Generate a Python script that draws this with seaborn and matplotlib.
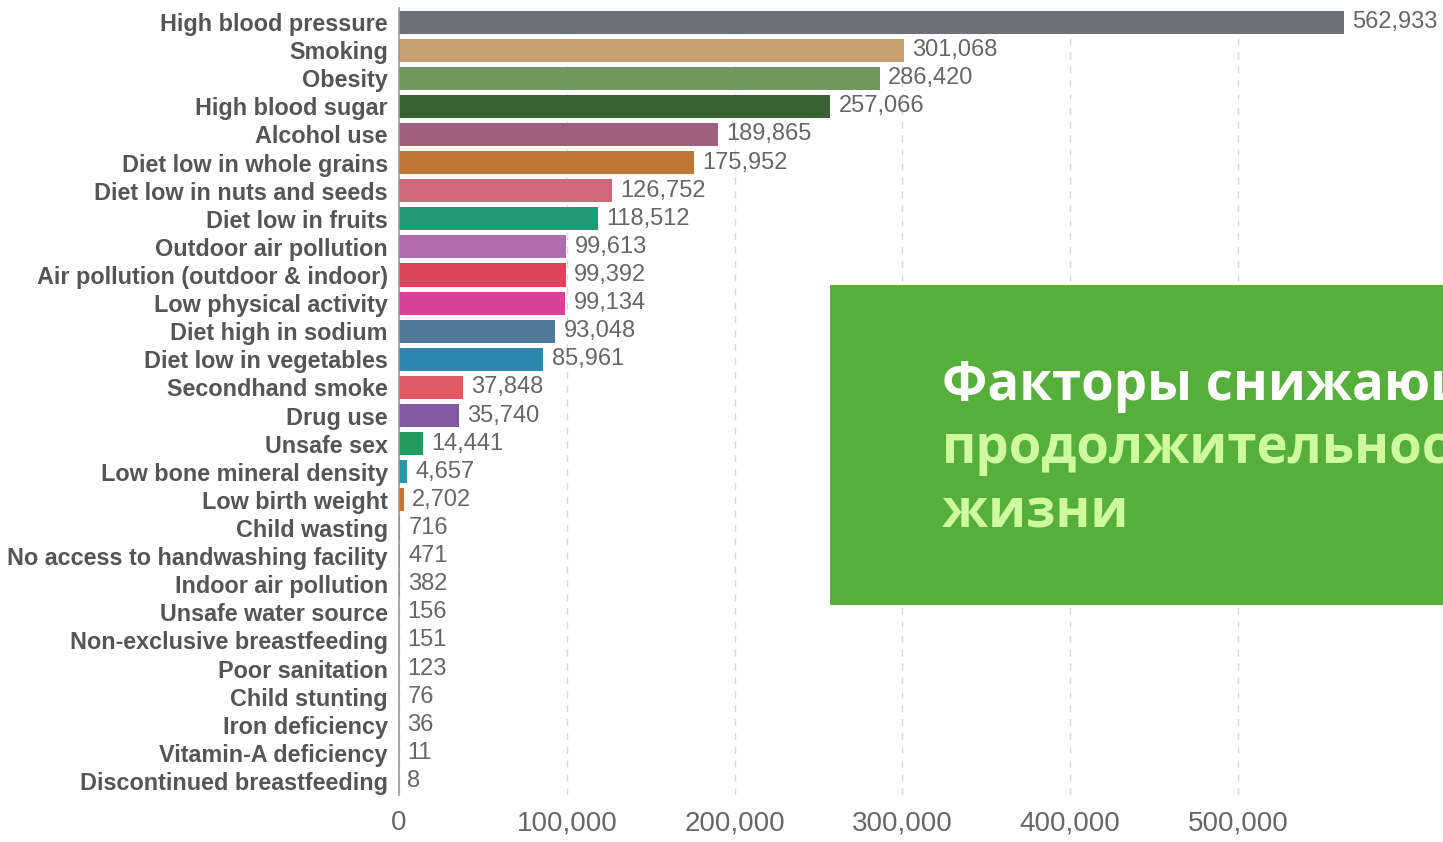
import matplotlib
matplotlib.use('Agg')
import matplotlib.pyplot as plt
import seaborn as sns
import pandas as pd
from matplotlib.patches import Rectangle
from matplotlib.ticker import FuncFormatter

categories = [
    "High blood pressure", "Smoking", "Obesity", "High blood sugar", "Alcohol use",
    "Diet low in whole grains", "Diet low in nuts and seeds", "Diet low in fruits",
    "Outdoor air pollution", "Air pollution (outdoor & indoor)", "Low physical activity",
    "Diet high in sodium", "Diet low in vegetables", "Secondhand smoke", "Drug use",
    "Unsafe sex", "Low bone mineral density", "Low birth weight", "Child wasting",
    "No access to handwashing facility", "Indoor air pollution", "Unsafe water source",
    "Non-exclusive breastfeeding", "Poor sanitation", "Child stunting", "Iron deficiency",
    "Vitamin-A deficiency", "Discontinued breastfeeding",
]
values = [562933, 301068, 286420, 257066, 189865, 175952, 126752, 118512, 99613, 99392,
          99134, 93048, 85961, 37848, 35740, 14441, 4657, 2702, 716, 471, 382, 156, 151,
          123, 76, 36, 11, 8]
colors = ["#6E717A", "#C79F70", "#72975F", "#386331", "#9E5F7F", "#BF7634", "#CF687A",
          "#239A78", "#AF6BAB", "#DC4459", "#D6449A", "#517A99", "#2E87AE", "#DD5A66",
          "#835AA2", "#239B5D", "#2A97A6", "#CC7232", "#6C8EB0", "#C94B8A", "#8A7FA8",
          "#6E9AB8", "#C98A5A", "#7A9F6A", "#A06A8A", "#D0787A", "#5A8FA0", "#9A8A6A"]
x_ticks = [0, 100000, 200000, 300000, 400000, 500000]
title_lines = ["Факторы снижающие", "продолжительность", "жизни"]
title_colors = ["#FFFFFF", "#CFFB9F", "#CFFB9F"]

df = pd.DataFrame({"factor": categories, "value": values})

W, H = 1443, 842
fig = plt.figure(figsize=(W / 100, H / 100), dpi=100)
ax = fig.add_axes([399 / W, 1 - 795 / H, (W - 399) / W, (795 - 8) / H])

sns.barplot(data=df, x="value", y="factor", hue="factor", palette=colors,
            orient="h", width=0.82, legend=False, ax=ax, saturation=1)

ax.set_xlim(0, (W - 399) / 167.8 * 100000)
ax.set_ylim(len(categories) - 0.5, -0.5)
ax.set_xticks(x_ticks)
ax.xaxis.set_major_formatter(FuncFormatter(lambda v, p: f"{int(v):,}"))
ax.set_xlabel("")
ax.set_ylabel("")
for s in ["top", "right", "bottom"]:
    ax.spines[s].set_visible(False)
ax.spines["left"].set_color("#9A9A9A")
ax.spines["left"].set_linewidth(1.2)
ax.grid(axis="x", color="#D8D8D8", linestyle=(0, (5, 5)), linewidth=1)
ax.set_axisbelow(True)
ax.tick_params(axis="x", length=0, pad=11, labelsize=20, labelcolor="#666666")
ax.tick_params(axis="y", length=0, pad=8, labelsize=16.8, labelcolor="#555555")
for lab in ax.get_xticklabels():
    lab.set_family(["Liberation Sans Narrow", "Liberation Sans", "DejaVu Sans"])
for lab in ax.get_yticklabels():
    lab.set_family(["Liberation Sans", "DejaVu Sans"])
    lab.set_fontweight("bold")

for cont in ax.containers:
    ax.bar_label(cont, labels=[f"{int(v):,}" for v in cont.datavalues], padding=6,
                 fontsize=17, color="#666666", family=["Liberation Sans", "DejaVu Sans"])

box = Rectangle((830 / W, 1 - 605 / H), (W - 830) / W + 0.01, (605 - 285) / H,
                transform=fig.transFigure, facecolor="#56AF3A", edgecolor="none", zorder=10)
fig.add_artist(box)
baselines = [400, 463, 528]
for txt, col, by in zip(title_lines, title_colors, baselines):
    fig.text(942 / W, 1 - by / H, txt, color=col, fontsize=38, fontweight="bold",
             family=["Open Sans", "DejaVu Sans"], va="baseline", ha="left", zorder=11)

fig.savefig("out.png", dpi=100)
